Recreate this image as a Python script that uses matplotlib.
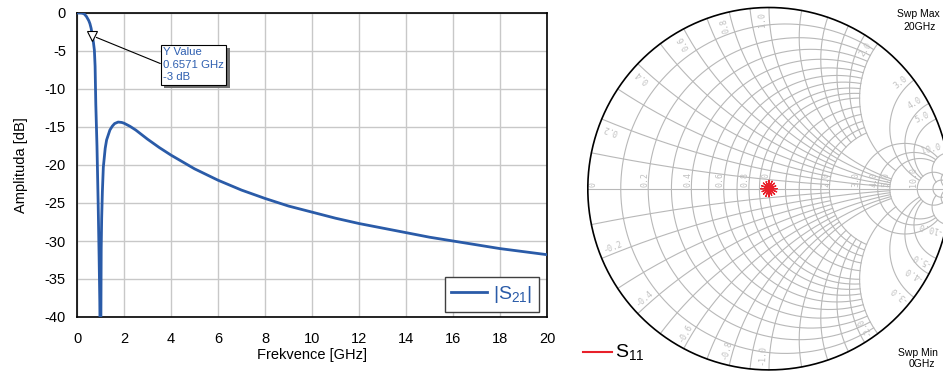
import numpy as np
import matplotlib
matplotlib.use('Agg')
import matplotlib.pyplot as plt
from matplotlib.lines import Line2D
import matplotlib.patheffects as pe

plt.rcParams['font.family'] = ['Liberation Sans', 'DejaVu Sans']
plt.rcParams['mathtext.fontset'] = 'custom'
plt.rcParams['mathtext.rm'] = 'Liberation Sans'
plt.rcParams['mathtext.it'] = 'Liberation Sans:italic'

# ---------------- data ----------------
freq_ghz = [0.0, 0.1, 0.2, 0.3, 0.4, 0.5, 0.55, 0.6, 0.6571, 0.7, 0.74, 0.77, 0.8,
            0.85, 0.9, 0.94, 0.97, 0.99, 1.0, 1.01, 1.02, 1.03, 1.05, 1.08, 1.12,
            1.2, 1.26, 1.4, 1.5, 1.6, 1.75, 1.9, 2.0, 2.25, 2.5, 3.0, 3.5, 4.0,
            4.5, 5.0, 6.0, 7.0, 8.0, 9.0, 10.0, 11.0, 12.0, 13.0, 14.0, 15.0,
            16.0, 17.0, 18.0, 19.0, 20.0]
s21_db = [0.0, 0.0, -0.02, -0.1, -0.45, -1.0, -1.4, -2.0, -3.0, -3.9, -4.9, -7.0, -12.0,
          -17.5, -25.0, -32.0, -38.0, -45.0, -50.0, -45.0, -38.0, -31.0, -27.0, -23.5, -20.3,
          -17.8, -16.7, -15.4, -14.9, -14.55, -14.35, -14.4, -14.5, -14.9, -15.4, -16.6, -17.7, -18.7,
          -19.6, -20.5, -22.0, -23.3, -24.4, -25.4, -26.2, -27.0, -27.7, -28.3, -28.9, -29.5,
          -30.0, -30.5, -31.0, -31.4, -31.8]
x_ticks = [0, 2, 4, 6, 8, 10, 12, 14, 16, 18, 20]
y_ticks = [0, -5, -10, -15, -20, -25, -30, -35, -40]
marker_freq = 0.6571
marker_db = -3.0
marker_label = "Y Value\n0.6571 GHz\n-3 dB"
s21_label = '|S$_{\\mathregular{21}}$|'
s11_label = 'S$_{\\mathregular{11}}$'
x_label = 'Frekvence [GHz]'
y_label = 'Amplituda [dB]'

# S11 trace: small cluster around the chart centre (reflection coefficient)
s11_re = [0.0, 0.045, 0.0, 0.037, 0.0, 0.030, 0.0, 0.017, 0.0, 0.0, 0.0, -0.016, 0.0,
          -0.031, 0.0, -0.041, 0.0, -0.046, 0.0, -0.038, 0.0, -0.030, 0.0, -0.017, 0.0,
          0.0, 0.0, 0.015, 0.0, 0.031, 0.0, 0.042, 0.0]
s11_im = [0.0, 0.0, 0.0, 0.015, 0.0, 0.030, 0.0, 0.041, 0.0, 0.046, 0.0, 0.038, 0.0,
          0.031, 0.0, 0.017, 0.0, 0.0, 0.0, -0.016, 0.0, -0.030, 0.0, -0.042, 0.0,
          -0.045, 0.0, -0.037, 0.0, -0.031, 0.0, -0.017, 0.0]

smith_axis_labels = [0.0, 0.2, 0.4, 0.6, 0.8, 1.0, 2.0, 3.0, 4.0, 5.0, 10.0]
smith_rim_labels = [0.2, 0.4, 0.6, 0.8, 1.0, 2.0, 3.0, 4.0, 5.0, 10.0]

# ---------------- figure ----------------
W, H = 943, 372
fig = plt.figure(figsize=(W / 100, H / 100), dpi=100)
fig.patch.set_facecolor('white')

blue = '#2a5ba8'

ax = fig.add_axes([77 / W, 1 - 317 / H, 470 / W, 304 / H])
ax.plot(freq_ghz, s21_db, color=blue, lw=2.0, label=s21_label, zorder=3)
ax.set_xlim(0, 20)
ax.set_ylim(-40, 0)
ax.set_xticks(x_ticks)
ax.set_yticks(y_ticks)
ax.set_yticklabels([str(v) for v in y_ticks])
ax.grid(True, color='#c8c8c8', lw=1.0)
ax.set_axisbelow(True)
ax.tick_params(length=0, labelsize=10.5)
ax.tick_params(axis='x', pad=11)
ax.tick_params(axis='y', pad=8)
for s in ax.spines.values():
    s.set_color('black')
    s.set_linewidth(1.2)
ax.set_xlabel(x_label, fontsize=10.5, labelpad=1)
ax.set_ylabel(y_label, fontsize=10.5, labelpad=12)

# marker + annotation
ax.plot([marker_freq], [marker_db], marker='v', ms=7, mfc='white', mec='black',
        mew=0.8, ls='none', zorder=5, clip_on=False)
ann = ax.annotate(marker_label, xy=(marker_freq, marker_db), xytext=(3.66, -4.45),
                  textcoords='data', ha='left', va='top', fontsize=8.2, color='#2e5fb0',
                  linespacing=1.35,
                  bbox=dict(boxstyle='square,pad=0.2', fc='white', ec='black', lw=0.8),
                  arrowprops=dict(arrowstyle='-', color='black', lw=0.8,
                                  relpos=(0.0, 0.5), shrinkA=0, shrinkB=3),
                  zorder=6)
ann.get_bbox_patch().set_path_effects([
    pe.withSimplePatchShadow(offset=(2.5, -2.5), shadow_rgbFace='#707070', alpha=1.0)])

leg = ax.legend(loc='lower right', bbox_to_anchor=((539.3 - 77) / 470, (317 - 311.7) / 304),
                borderaxespad=0, fontsize=14, frameon=True, fancybox=False,
                framealpha=1, edgecolor='#404040', handlelength=1.85,
                handletextpad=0.3, borderpad=0.35)
leg.get_frame().set_linewidth(1.0)
for t in leg.get_texts():
    t.set_color(blue)

# ---------------- Smith chart ----------------
cx, cy, R = 769.0, 188.7, 181.2
ax0 = 560.0
sax = fig.add_axes([ax0 / W, 0, (W - ax0) / W, 1])
sax.set_xlim((ax0 - cx) / R, (W - cx) / R)
sax.set_ylim((cy - H) / R, cy / R)
sax.axis('off')

gcol = '#b8b8b8'
glw = 0.8


def gam(z):
    return (z - 1) / (z + 1)


def r_circle(r, xmax):
    t = np.linspace(-np.arcsinh(xmax), np.arcsinh(xmax), 800)
    g = gam(r + 1j * np.sinh(t))
    sax.plot(g.real, g.imag, color=gcol, lw=glw, zorder=1)


def x_arc(x, rmax):
    t = np.linspace(0, np.arcsinh(rmax), 600)
    g = gam(np.sinh(t) + 1j * x)
    sax.plot(g.real, g.imag, color=gcol, lw=glw, zorder=1)


fine_a = [0.1, 0.2, 0.3, 0.4, 0.5, 0.6, 0.7, 0.8, 0.9, 1.0]
fine_b = [1.2, 1.4, 1.6, 1.8, 2.0]
for r in fine_a + fine_b:
    r_circle(r, 2.0)
for x in fine_a + fine_b:
    rm = 5.0 if x in (0.2, 0.4, 0.6, 0.8, 1.0, 2.0) else 2.0
    x_arc(x, rm)
    x_arc(-x, rm)
for r in [3.0, 4.0, 5.0]:
    r_circle(r, 10.0)
for x in [3.0, 4.0, 5.0]:
    x_arc(x, 10.0)
    x_arc(-x, 10.0)
r_circle(10.0, 20.0)
x_arc(10.0, 20.0)
x_arc(-10.0, 20.0)
r_circle(20.0, 1e4)
x_arc(20.0, 1e4)
x_arc(-20.0, 1e4)

sax.plot([-1, 1], [0, 0], color=gcol, lw=glw, zorder=1)
th = np.linspace(0, 2 * np.pi, 1000)
sax.plot(np.cos(th), np.sin(th), color='black', lw=1.2, zorder=3)

lab_kw = dict(fontsize=6, color='#c0c0c0', family='DejaVu Sans Mono', zorder=2)
px = 1.0 / R
for r in smith_axis_labels:
    gx = (r - 1) / (r + 1)
    xpos = gx + 5 * px if r == 0 else gx - 3.5 * px
    sax.text(xpos, 1.5 * px, f'{r:.1f}' if r > 0 else '0', rotation=90,
             ha='center', va='bottom', **lab_kw)

dlt = np.deg2rad(2.2)
for x in smith_rim_labels:
    th0 = np.pi - 2 * np.arctan(x)
    a = th0 + dlt
    sax.text(0.975 * np.cos(a), 0.975 * np.sin(a), f'{x:.1f}',
             rotation=np.rad2deg(a), rotation_mode='anchor', ha='right', va='center', **lab_kw)
    a = -th0 - dlt
    sax.text(0.975 * np.cos(a), 0.975 * np.sin(a), f'-{x:.1f}',
             rotation=np.rad2deg(a) + 180, rotation_mode='anchor', ha='left', va='center', **lab_kw)

sax.plot(s11_re, s11_im, color='#e8202a', lw=0.9, zorder=4)

# sweep texts
fig.text(918 / W, 1 - 14 / H, 'Swp Max', ha='center', va='center', fontsize=7.5)
fig.text(920 / W, 1 - 27 / H, '20GHz', ha='center', va='center', fontsize=7.5)
fig.text(918 / W, 1 - 353 / H, 'Swp Min', ha='center', va='center', fontsize=7.5)
fig.text(922 / W, 1 - 364 / H, '0GHz', ha='center', va='center', fontsize=7.5)

# S11 legend
fig.add_artist(Line2D([583 / W, 612 / W], [1 - 352 / H, 1 - 352 / H], color='#e8202a', lw=1.5))
fig.text(615 / W, 1 - 352 / H, s11_label, ha='left', va='center', fontsize=14)

fig.savefig('out.png', dpi=100, facecolor='white')
